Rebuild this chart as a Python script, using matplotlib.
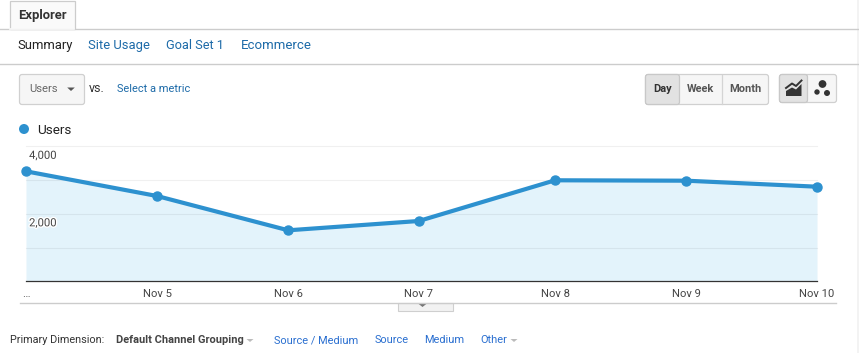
import matplotlib
matplotlib.use("Agg")
import matplotlib.pyplot as plt
import matplotlib.patheffects as pe
from matplotlib.transforms import offset_copy
from matplotlib.patches import FancyBboxPatch, Rectangle, Polygon, Circle

plt.rcParams['font.family'] = ['Roboto', 'DejaVu Sans']

days = [0, 0.994, 1.989, 2.98, 4.013, 5.008, 6]
day_labels = ['…', 'Nov 5', 'Nov 6', 'Nov 7', 'Nov 8', 'Nov 9', 'Nov 10']
users = [3259, 2527, 1511, 1787, 2993, 2981, 2803]
y_ticks = [2000, 4000]
y_grid = [1000, 2000, 3000, 4000]
y_tick_labels = ['2,000', '4,000']

W, H = 859, 353
BLUE = '#2d91cf'
LINK = '#1c6aa8'
LINK2 = '#2a6fd0'

fig = plt.figure(figsize=(W / 100, H / 100), dpi=100)

# page layer in pixel coordinates
bg = fig.add_axes([0, 0, 1, 1])
bg.set_xlim(0, W)
bg.set_ylim(H, 0)
bg.axis('off')


def box(x, y, w, h, fc='#f6f6f6', ec='#d0d0d0', r=2.5):
    bg.add_patch(FancyBboxPatch((x, y), w, h, boxstyle=f'round,pad=0,rounding_size={r}',
                                fc=fc, ec=ec, lw=0.9))


def tri(x, y, w, h, color):
    bg.add_patch(Polygon([(x - w, y), (x + w, y), (x, y + h)], fc=color, ec='none'))


# tabs
bg.add_patch(Rectangle((856.5, 0), 2.5, H, fc='#f3f3f3', ec='none'))
bg.plot([0, W], [28.5, 28.5], color='#cccccc', lw=1)
bg.plot([0, W], [63.5, 63.5], color='#cccccc', lw=1)
bg.add_patch(Rectangle((9.5, 0.5), 65, 28.5, fc='#fafafa', ec='#cccccc', lw=0.9, zorder=3))
bg.plot([10, 74], [28.5, 28.5], color='#fafafa', lw=1.2, zorder=4)
bg.text(18, 15, 'Explorer', fontsize=9.4, fontweight='bold', color='#333333', va='center', zorder=5)
bg.text(17, 45.5, 'Summary', fontsize=9.4, color='#222222', va='center')
bg.text(88.5, 45.5, 'Site Usage', fontsize=9.35, color=LINK, va='center')
bg.text(166, 45.5, 'Goal Set 1', fontsize=9.2, color=LINK, va='center')
bg.text(241, 45.5, 'Ecommerce', fontsize=9.5, color=LINK, va='center')

# metric selector
box(19.5, 74.5, 65, 30)
bg.text(29.5, 89.5, 'Users', fontsize=8.1, color='#666666', va='center')
tri(71, 87.5, 3.8, 3.5, '#555555')
bg.text(89, 88, 'vs.', fontsize=9, color='#333333', va='center')
bg.text(117, 89.5, 'Select a metric', fontsize=7.9, color=LINK, va='center')

# day / week / month
box(645.5, 74.5, 123, 30)
bg.add_patch(FancyBboxPatch((645.5, 74.5), 34, 30, boxstyle='round,pad=0,rounding_size=2.5',
                            fc='#e2e2e2', ec='#c8c8c8', lw=0.9))
bg.plot([721.5, 721.5], [75, 104], color='#d4d4d4', lw=0.9)
bg.text(662.5, 89, 'Day', fontsize=7.9, fontweight='bold', color='#333333', va='center', ha='center')
bg.text(700.5, 89, 'Week', fontsize=7.9, fontweight='bold', color='#555555', va='center', ha='center')
bg.text(745, 89, 'Month', fontsize=7.9, fontweight='bold', color='#555555', va='center', ha='center')

# chart type toggle
box(779.5, 74.5, 57, 28)
bg.add_patch(FancyBboxPatch((779.5, 74.5), 28, 28, boxstyle='round,pad=0,rounding_size=2.5',
                            fc='#e2e2e2', ec='#c8c8c8', lw=0.9))
bg.add_patch(Polygon([(786, 96), (786, 91), (792, 87.5), (796, 89.5), (801.5, 84), (801.5, 96)], fc='#333333', ec='none'))
bg.plot([786, 792, 796, 801.5], [88, 83.5, 86, 80.5], color='#333333', lw=1.4)
bg.add_patch(Circle((822.5, 84), 3.9, fc='#333333', ec='none'))
bg.add_patch(Circle((817, 92), 2.7, fc='#333333', ec='none'))
bg.add_patch(Circle((827, 93), 3.0, fc='#333333', ec='none'))

# legend
bg.add_patch(Circle((24, 129), 5, fc=BLUE, ec='none'))
bg.text(37, 130, 'Users', fontsize=9.7, color='#222222', va='center')

# chart
left, right, top, bottom = 26, 817, 146.3, 281.3
ax = fig.add_axes([left / W, 1 - bottom / H, (right - left) / W, (bottom - top) / H])
ax.patch.set_alpha(0)
ax.set_xlim(0, 6)
ax.set_ylim(0, 4000)
ax.fill_between(days, users, 0, color='#e3f3fb', lw=0, zorder=1)
for g in y_grid:
    ax.axhline(g, color='#000000', alpha=0.06, lw=0.8, zorder=1.5, clip_on=False)
ax.plot(days, users, color=BLUE, lw=3, marker='o', ms=6.5, clip_on=False, zorder=3)
for s in ['top', 'left', 'right']:
    ax.spines[s].set_visible(False)
ax.spines['bottom'].set_color('#333333')
ax.spines['bottom'].set_linewidth(0.9)
ax.set_yticks(y_ticks)
ax.set_yticklabels(y_tick_labels)
ax.tick_params(axis='y', length=0, pad=-2.2, labelsize=8.1, labelcolor='#444444')
for lab in ax.get_yticklabels():
    lab.set_ha('left')
    lab.set_va('center')
    lab.set_transform(offset_copy(lab.get_transform(), fig=fig, y=-9.5, units='dots'))
    lab.set_path_effects([pe.withStroke(linewidth=2, foreground='white')])
    lab.set_zorder(4)
ax.set_xticks(days)
ax.set_xticklabels(day_labels)
ax.tick_params(axis='x', length=0, pad=5.2, labelsize=8.1, labelcolor='#444444')

# below the chart
bg.plot([20, 836], [302.5, 302.5], color='#cccccc', lw=1)
bg.add_patch(Rectangle((397.5, 302.5), 55, 8, fc='#f2f2f2', ec='#cfcfcf', lw=0.8))
tri(422.5, 304, 3.8, 3, '#777777')

bg.text(9.5, 340, 'Primary Dimension:', fontsize=7.85, color='#333333', va='center')
bg.text(116.5, 340, 'Default Channel Grouping', fontsize=7.95, fontweight='bold', color='#444444', va='center')
tri(250, 339, 3.5, 3, '#bbbbbb')
bg.text(274.5, 340, 'Source / Medium', fontsize=7.9, color=LINK2, va='center')
bg.text(374.5, 340, 'Source', fontsize=7.9, color=LINK2, va='center')
bg.text(424.5, 340, 'Medium', fontsize=7.9, color=LINK2, va='center')
bg.text(480.5, 340, 'Other', fontsize=7.9, color=LINK2, va='center')
tri(514, 339, 3.5, 3, '#bbbbbb')

fig.savefig('out.png', dpi=100)
